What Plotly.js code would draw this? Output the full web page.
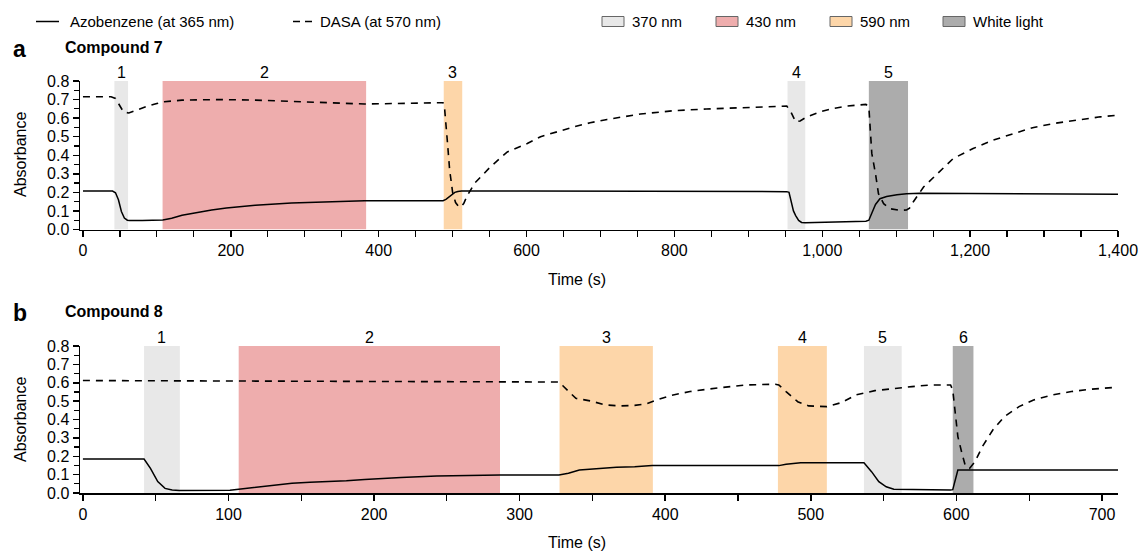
<!DOCTYPE html>
<html><head><meta charset="utf-8">
<script src="https://cdn.plot.ly/plotly-3.0.1.min.js"></script>
<style>html,body{margin:0;padding:0;background:#fff}#chart{width:1141px;height:552px}</style>
</head><body><div id="chart"></div>
<script>
// ---------- Panel a: Compound 7 ----------
const tAzoA = [0,40,44,48,52,56,60,63,80,100,108,115,120,134,154,174,194,233,282,332,381,431,487,491,495,499,503,507,512,600,700,800,900,952,955,958,961,964,968,972,977,990,1033,1059,1063,1067,1072,1078,1087,1101,1114,1132,1200,1300,1400];
const azoA  = [0.207,0.207,0.198,0.16,0.097,0.062,0.05,0.048,0.049,0.05,0.051,0.057,0.061,0.077,0.093,0.105,0.116,0.13,0.143,0.15,0.155,0.155,0.155,0.162,0.176,0.19,0.2,0.205,0.207,0.207,0.206,0.205,0.205,0.204,0.2,0.15,0.1,0.075,0.049,0.038,0.036,0.038,0.041,0.045,0.05,0.085,0.135,0.166,0.178,0.187,0.193,0.195,0.194,0.192,0.19];
const tDasaA = [0,38,44,50,55,62,70,85,100,110,134,184,233,282,332,381,431,487,489,491,493,496,500,504,508,511,515,520,530,538,551,574,601,619,641,664,686,709,754,799,843,889,934,952,958,964,970,979,997,1015,1033,1059,1063,1065,1067,1072,1076,1083,1092,1105,1114,1118,1123,1137,1155,1177,1204,1231,1259,1286,1313,1349,1376,1400];
const dasaA  = [0.715,0.715,0.706,0.661,0.632,0.628,0.64,0.661,0.679,0.688,0.697,0.7,0.697,0.692,0.683,0.676,0.679,0.683,0.66,0.58,0.47,0.32,0.2,0.145,0.125,0.12,0.14,0.184,0.25,0.283,0.337,0.418,0.463,0.5,0.526,0.553,0.575,0.593,0.622,0.64,0.649,0.656,0.661,0.665,0.63,0.58,0.585,0.607,0.634,0.652,0.665,0.674,0.66,0.55,0.41,0.3,0.193,0.139,0.112,0.103,0.105,0.115,0.148,0.229,0.3,0.382,0.436,0.481,0.517,0.55,0.571,0.593,0.607,0.616];
const regAStart = [42.5,107.7,488,953,1063];
const regAEnd   = [61,383,513,977,1116];
const regAType  = ['370 nm','430 nm','590 nm','370 nm','White light'];
const regALabel = ['1','2','3','4','5'];

// ---------- Panel b: Compound 8 ----------
const tAzoB = [0,42,46.4,51.4,56.4,61.3,66.3,80,101,107,118.7,131,143.6,156,168.6,181,193.5,206,218.5,243,268,286.5,327,333.5,341,354,366.5,379,391,478,483,493,536.5,541.7,546.7,551.8,557,596,597.5,601,610,650,700,711];
const azoB  = [0.185,0.185,0.134,0.062,0.025,0.016,0.013,0.014,0.015,0.02,0.031,0.042,0.053,0.058,0.062,0.067,0.074,0.08,0.085,0.093,0.096,0.098,0.098,0.107,0.125,0.134,0.14,0.143,0.149,0.149,0.156,0.165,0.165,0.116,0.062,0.034,0.02,0.016,0.018,0.125,0.125,0.127,0.124,0.125];
const tDasaB = [0,100,193.5,286.5,327,329.5,333.5,338.6,348.7,359,369,379,387,394,404.6,417,430,442.6,455,475.6,478,483,491,498.5,511,521,531,544,557,569.5,582,596,597.5,599,601,603.8,606,609,612.7,617.8,625,633,643,653,666,679,691,709];
const dasaB  = [0.612,0.61,0.608,0.606,0.604,0.585,0.552,0.515,0.501,0.479,0.474,0.477,0.485,0.506,0.532,0.552,0.566,0.579,0.588,0.592,0.588,0.552,0.497,0.474,0.47,0.492,0.534,0.557,0.57,0.579,0.588,0.588,0.56,0.434,0.307,0.216,0.152,0.134,0.17,0.252,0.343,0.416,0.47,0.506,0.534,0.552,0.564,0.575];
const regBStart = [42,107,327.4,477.4,536.5,597.5];
const regBEnd   = [66.6,286.5,391.5,511,562.4,611.7];
const regBType  = ['370 nm','430 nm','590 nm','590 nm','370 nm','White light'];
const regBLabel = ['1','2','3','4','5','6'];

// ---------- legend / labels ----------
const lightNames  = ['370 nm','430 nm','590 nm','White light'];
const lightColors = ['#e8e8e8','#eeadad','#fdd6a9','#acacac'];
const seriesNames = ['Azobenzene (at 365 nm)','DASA (at 570 nm)'];
const panelLetters = ['a','b'];
const panelTitles  = ['Compound 7','Compound 8'];

// ---------- build ----------
const W = 1141, H = 552;
const px = v => v / W;
const py = v => 1 - v / H;
const FONT = 'Liberation Sans, Arial, Helvetica, sans-serif';
const colorOf = t => lightColors[lightNames.indexOf(t)];

const lineSolid = {color:'#000', width:1.5};
const lineDash  = {color:'#000', width:1.6, dash:'7px,6px'};

const traces = [
  {x:tAzoA, y:azoA, xaxis:'x', yaxis:'y', mode:'lines', line:lineSolid, name:seriesNames[0], showlegend:false, hoverinfo:'skip'},
  {x:tDasaA, y:dasaA, xaxis:'x', yaxis:'y', mode:'lines', line:lineDash, name:seriesNames[1], showlegend:false, hoverinfo:'skip'},
  {x:tAzoB, y:azoB, xaxis:'x2', yaxis:'y2', mode:'lines', line:lineSolid, name:seriesNames[0], showlegend:false, hoverinfo:'skip'},
  {x:tDasaB, y:dasaB, xaxis:'x2', yaxis:'y2', mode:'lines', line:lineDash, name:seriesNames[1], showlegend:false, hoverinfo:'skip'}
];

const shapes = [];
const annotations = [];

function addRegions(starts, ends, types, labels, xr, yr) {
  starts.forEach((s, i) => {
    shapes.push({type:'rect', xref:xr, yref:yr, x0:s, x1:ends[i], y0:0, y1:0.8,
      fillcolor:colorOf(types[i]), line:{width:0}, layer:'below'});
    annotations.push({xref:xr, yref:yr, x:(s+ends[i])/2, y:0.8, yanchor:'bottom', xanchor:'center',
      text:labels[i], showarrow:false, font:{size:16, color:'#000', family:FONT}, yshift:-2});
  });
}
addRegions(regAStart, regAEnd, regAType, regALabel, 'x', 'y');
addRegions(regBStart, regBEnd, regBType, regBLabel, 'x2', 'y2');

// legend: series
const legY = 21.5;
shapes.push({type:'line', xref:'paper', yref:'paper', x0:px(36), x1:px(59), y0:py(legY), y1:py(legY), line:{color:'#000', width:1.5}});
annotations.push({xref:'paper', yref:'paper', x:px(68), y:py(legY), xanchor:'left', yanchor:'middle', text:seriesNames[0], showarrow:false, font:{size:15, color:'#000', family:FONT}});
shapes.push({type:'line', xref:'paper', yref:'paper', x0:px(293), x1:px(314), y0:py(legY), y1:py(legY), line:{color:'#000', width:1.5, dash:'7px,5px'}});
annotations.push({xref:'paper', yref:'paper', x:px(318), y:py(legY), xanchor:'left', yanchor:'middle', text:seriesNames[1], showarrow:false, font:{size:15, color:'#000', family:FONT}});
// legend: light sources
const boxX = [602, 716, 830, 943];
lightNames.forEach((n, i) => {
  shapes.push({type:'rect', xref:'paper', yref:'paper', x0:px(boxX[i]), x1:px(boxX[i]+22), y0:py(26.5), y1:py(16.5),
    fillcolor:lightColors[i], line:{color:'#666', width:1}});
  annotations.push({xref:'paper', yref:'paper', x:px(boxX[i]+28), y:py(legY), xanchor:'left', yanchor:'middle', text:n, showarrow:false, font:{size:15, color:'#000', family:FONT}});
});

// panel letters and titles
const panelY = [48.5, 312.5];
panelLetters.forEach((l, i) => {
  annotations.push({xref:'paper', yref:'paper', x:px(11), y:py(panelY[i]), xanchor:'left', yanchor:'middle', text:'<b>'+l+'</b>', showarrow:false, font:{size:23, color:'#000', family:FONT}});
  annotations.push({xref:'paper', yref:'paper', x:px(63), y:py(panelY[i]-1), xanchor:'left', yanchor:'middle', text:'<b>'+panelTitles[i]+'</b>', showarrow:false, font:{size:16, color:'#000', family:FONT}});
});

// axis titles
const absY = [155, 420];
const timeY = [279, 542];
[0,1].forEach(i => {
  annotations.push({xref:'paper', yref:'paper', x:px(20), y:py(absY[i]), xanchor:'center', yanchor:'middle', textangle:-90, text:'Absorbance', showarrow:false, font:{size:16, color:'#000', family:FONT}});
  annotations.push({xref:'paper', yref:'paper', x:px(577), y:py(timeY[i]), xanchor:'center', yanchor:'middle', text:'Time (s)', showarrow:false, font:{size:16, color:'#000', family:FONT}});
});

const xDom = [px(80), px(1118)];
const commonX = {domain:xDom, showline:true, linecolor:'#000', linewidth:1.5, ticks:'outside', ticklen:6, tickwidth:1.5, tickcolor:'#000',
  showgrid:false, zeroline:false, tickfont:{size:16, color:'#000', family:FONT}, tickformat:',d', fixedrange:true};
const commonY = {range:[0,0.8], showline:true, linecolor:'#000', linewidth:1.5, ticks:'outside', ticklen:6, tickwidth:1.5, tickcolor:'#000',
  showgrid:false, zeroline:false, tickfont:{size:16, color:'#000', family:FONT}, tick0:0, dtick:0.1, tickformat:'.1f',
  minor:{dtick:0.05, ticks:'outside', ticklen:5, tickwidth:1.2, tickcolor:'#000', showgrid:false}, fixedrange:true};

const layout = {
  width:W, height:H, margin:{l:0, r:0, t:0, b:0}, paper_bgcolor:'#fff', plot_bgcolor:'rgba(0,0,0,0)',
  font:{family:FONT, color:'#000'}, showlegend:false,
  xaxis: Object.assign({}, commonX, {anchor:'y', range:[-4,1400], tick0:0, dtick:200,
    minor:{dtick:50, ticks:'outside', ticklen:6, tickwidth:1.2, tickcolor:'#000', showgrid:false}}),
  yaxis: Object.assign({}, commonY, {anchor:'x', domain:[py(229.5), py(81)]}),
  xaxis2: Object.assign({}, commonX, {anchor:'y2', range:[-2,711], tick0:0, dtick:100,
    minor:{dtick:50, ticks:'outside', ticklen:6, tickwidth:1.2, tickcolor:'#000', showgrid:false}}),
  yaxis2: Object.assign({}, commonY, {anchor:'x2', domain:[py(493), py(346)]}),
  shapes:shapes, annotations:annotations
};

Plotly.newPlot('chart', traces, layout, {displayModeBar:false, staticPlot:true});
</script></body></html>
